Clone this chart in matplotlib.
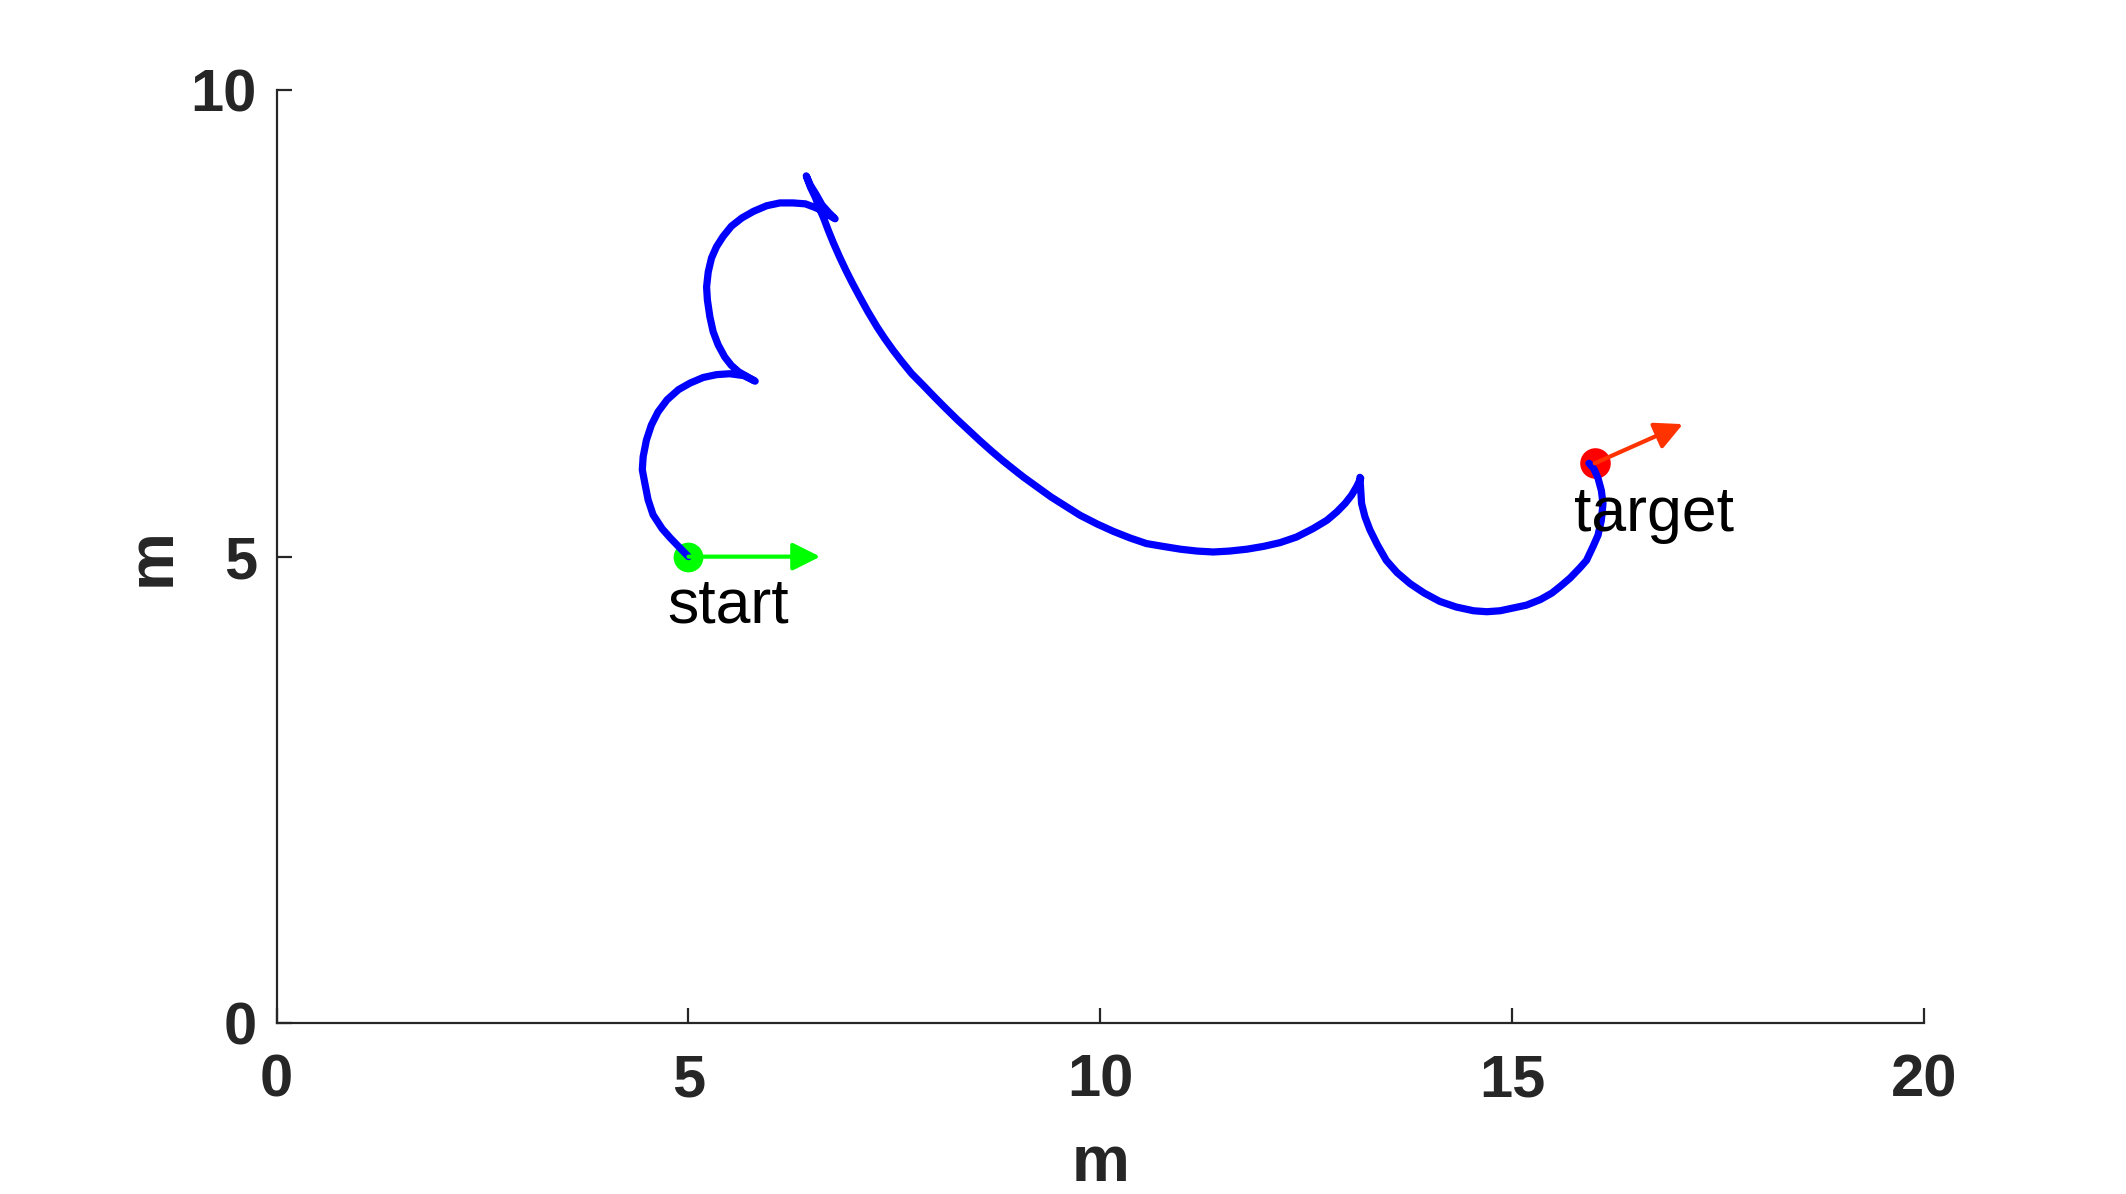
import matplotlib
matplotlib.use("Agg")
import matplotlib.pyplot as plt

# Path waypoints (data units, metres)
path_x = [
    # first arc: start -> cusp 1
    5.00, 4.90, 4.78, 4.68, 4.57, 4.51, 4.47, 4.44, 4.45, 4.49, 4.55, 4.63, 4.74, 4.88,
    5.02, 5.18, 5.34, 5.50, 5.67, 5.81,
    # second arc: cusp 1 -> cusp 2
    5.71, 5.61, 5.52, 5.44, 5.36, 5.30, 5.26, 5.23, 5.22, 5.24, 5.28, 5.34, 5.42, 5.52,
    5.65, 5.79, 5.95, 6.11, 6.27, 6.42, 6.54, 6.64, 6.72, 6.78,
    # short reverse piece: cusp 2 -> cusp 3
    6.70, 6.62, 6.55, 6.48, 6.43,
    # long curve: cusp 3 -> cusp 4
    6.48, 6.54, 6.59, 6.64, 6.70, 6.76, 6.835, 6.91, 6.99, 7.075, 7.175, 7.29, 7.38, 7.485,
    7.59, 7.71, 7.85, 7.97, 8.11, 8.26, 8.40, 8.54, 8.68, 8.82, 8.94, 9.07, 9.40,
    9.75, 9.96, 10.16, 10.36, 10.56, 10.76, 10.97, 11.17, 11.37, 11.57, 11.78, 11.98,
    12.18, 12.38, 12.58, 12.75, 12.87, 12.97, 13.05, 13.11, 13.16,
    # last arc: cusp 4 -> target
    13.15, 13.17, 13.21, 13.27, 13.36, 13.47, 13.60, 13.76, 13.93, 14.12, 14.32, 14.53,
    14.69, 14.85, 15.01, 15.17, 15.34, 15.48, 15.58, 15.70, 15.82, 15.90, 15.98, 16.04,
    16.08, 16.10, 16.08, 16.04, 15.99, 15.93,
]
path_y = [
    5.00, 5.09, 5.20, 5.30, 5.45, 5.61, 5.79, 5.93, 6.07, 6.25, 6.41, 6.55, 6.68, 6.79,
    6.86, 6.92, 6.95, 6.96, 6.94, 6.88,
    6.93, 6.98, 7.05, 7.14, 7.27, 7.41, 7.57, 7.75, 7.89, 8.05, 8.20, 8.32, 8.43, 8.54,
    8.63, 8.70, 8.76, 8.79, 8.79, 8.78, 8.74, 8.70, 8.65, 8.62,
    8.69, 8.77, 8.88, 8.98, 9.08,
    8.96, 8.85, 8.73, 8.63, 8.49, 8.36, 8.21, 8.07, 7.93, 7.79, 7.63, 7.46, 7.34, 7.21,
    7.09, 6.96, 6.835, 6.725, 6.60, 6.47, 6.355, 6.24, 6.13, 6.025, 5.94, 5.85, 5.64,
    5.445, 5.35, 5.27, 5.20, 5.14, 5.11, 5.08, 5.06, 5.05, 5.06, 5.08, 5.11,
    5.15, 5.21, 5.30, 5.39, 5.48, 5.57, 5.66, 5.75, 5.84,
    5.85, 5.57, 5.43, 5.29, 5.13, 4.96, 4.83, 4.71, 4.61, 4.52, 4.46, 4.42,
    4.41, 4.42, 4.45, 4.48, 4.54, 4.61, 4.68, 4.77, 4.88, 4.96, 5.11, 5.23,
    5.39, 5.57, 5.71, 5.84, 5.94, 6.00,
]

start_pt = (5.0, 5.0)
start_dir_end = (6.6, 5.0)
target_pt = (16.0, 6.0)
target_dir_end = (17.07, 6.42)

x_ticks = [0, 5, 10, 15, 20]
y_ticks = [0, 5, 10]

W, H, DPI = 2126, 1194, 200
fig = plt.figure(figsize=(W / DPI, H / DPI), dpi=DPI)
ax = fig.add_axes([276.5 / W, 1 - 1023.3 / H, (1924.3 - 276.5) / W, (1023.3 - 90) / H])

ax.plot(*start_pt, 'o', color='#00ff00', markersize=9.7, zorder=2)
ax.plot(*target_pt, 'o', color='#ff0000', markersize=10, zorder=2)
ax.plot(path_x, path_y, '-', color='#0000ff', linewidth=2.6, solid_capstyle='round',
        solid_joinstyle='round', zorder=3)

ax.annotate('', xy=start_dir_end, xytext=start_pt,
            arrowprops=dict(arrowstyle='-|>,head_length=0.4,head_width=0.2', color='#00ff00',
                            lw=1.5, mutation_scale=21, shrinkA=0, shrinkB=0), zorder=4)
ax.annotate('', xy=target_dir_end, xytext=target_pt,
            arrowprops=dict(arrowstyle='-|>,head_length=0.4,head_width=0.2', color='#ff3300',
                            lw=1.5, mutation_scale=21, shrinkA=0, shrinkB=0), zorder=4)

ax.text(4.74, 4.47, 'start', fontsize=22.5, family='Liberation Sans', ha='left', va='center',
        color='black')
ax.text(15.75, 5.45, 'target', fontsize=22.5, family='Liberation Sans', ha='left', va='center',
        color='black')

ax.set_xlim(0, 20)
ax.set_ylim(0, 10)
ax.set_xticks(x_ticks)
ax.set_yticks(y_ticks)
ax.spines['top'].set_visible(False)
ax.spines['right'].set_visible(False)
for s in ('left', 'bottom'):
    ax.spines[s].set_linewidth(0.8)
    ax.spines[s].set_color('#262626')
ax.tick_params(direction='in', length=5.4, width=0.8, color='#262626', labelcolor='#262626')
ax.tick_params(axis='x', pad=11)
ax.tick_params(axis='y', pad=7)
for lab in ax.get_xticklabels() + ax.get_yticklabels():
    lab.set_fontfamily('Liberation Sans')
    lab.set_fontweight('bold')
    lab.set_fontsize(21.5)

ax.set_xlabel('m', fontsize=23.5, fontweight='bold', family='Liberation Sans', color='#262626',
              labelpad=9)
ax.set_ylabel('m', fontsize=23.5, fontweight='bold', family='Liberation Sans', color='#262626',
              labelpad=3)

fig.savefig('out.png', dpi=DPI)
